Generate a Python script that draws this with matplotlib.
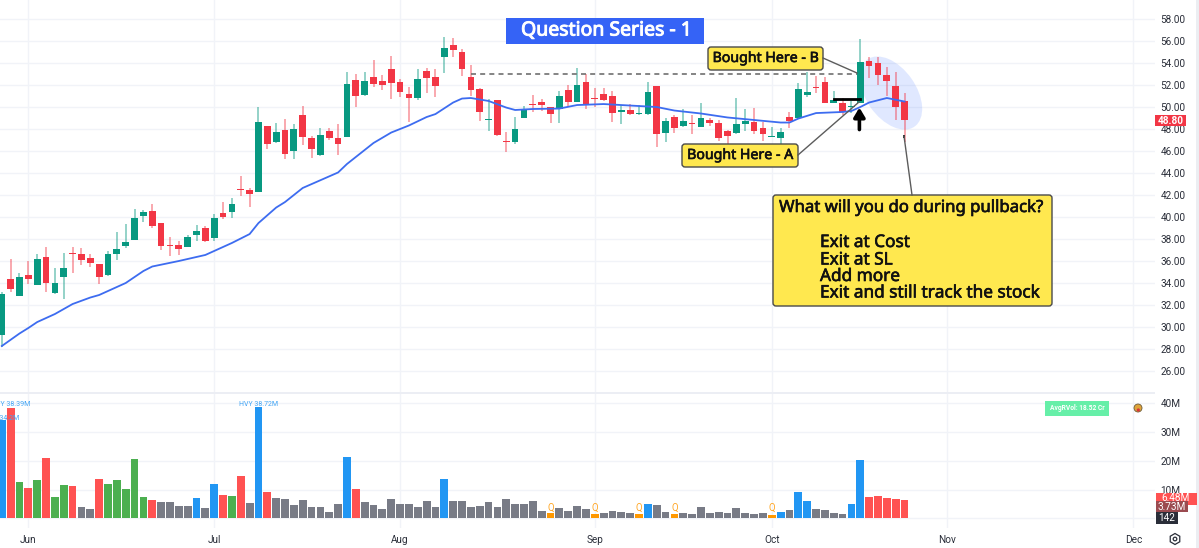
import matplotlib
matplotlib.use("Agg")
import matplotlib.pyplot as plt
import matplotlib.patheffects as pe
from matplotlib.patches import Ellipse, FancyBboxPatch, Rectangle, Circle, RegularPolygon

# Candles
opens = [29.27, 34.36, 32.82, 34.73, 33.82, 36.36, 33.09, 34.55, 36.73, 36.64,
         36.27, 35.73, 34.73, 36.64, 37.36, 37.91, 40.09, 40.55, 39.45, 37.45,
         37.45, 37.27, 38.36, 39.00, 38.09, 40.36, 40.45, 42.55, 42.45, 42.27,
         48.27, 46.82, 47.91, 46.00, 49.27, 47.18, 45.64, 47.82, 47.18, 47.27,
         52.45, 51.09, 52.73, 52.36, 53.45, 52.27, 51.18, 50.82, 53.27, 52.73,
         54.55, 55.64, 55.00, 52.73, 51.64, 48.82, 50.64, 46.91, 46.82, 49.00,
         50.27, 50.45, 50.00, 49.82, 51.55, 50.45, 52.27, 50.82, 51.18, 51.00,
         49.55, 49.73, 49.36, 49.36, 51.91, 47.64, 49.09, 48.27, 48.55, 48.18,
         48.82, 48.55, 47.82, 47.64, 48.45, 48.64, 48.09, 47.27, 47.18, 49.09,
         49.00, 51.09, 51.82, 52.27, 50.36, 50.36, 50.00, 50.36, 54.18, 54.00,
         52.91, 51.91, 50.55]
highs = [33.18, 36.18, 34.91, 36.00, 36.64, 37.27, 35.36, 36.73, 37.27, 37.18,
         36.64, 35.73, 36.91, 38.64, 39.36, 40.73, 40.64, 41.18, 39.45, 38.18,
         37.82, 38.36, 39.27, 39.18, 40.27, 41.36, 41.73, 43.73, 42.64, 50.00,
         48.27, 48.55, 48.91, 48.45, 50.09, 47.36, 48.09, 48.09, 48.45, 53.18,
         53.00, 53.18, 54.27, 52.91, 54.64, 52.55, 51.82, 53.45, 53.55, 53.45,
         56.36, 56.27, 55.27, 53.82, 51.73, 50.73, 50.64, 47.73, 49.09, 50.09,
         51.09, 50.73, 50.00, 51.45, 52.00, 53.55, 53.00, 51.73, 51.73, 51.45,
         50.18, 50.27, 50.18, 52.27, 51.91, 49.00, 49.27, 49.82, 49.27, 50.36,
         49.00, 48.82, 47.91, 50.82, 49.82, 49.91, 48.64, 48.18, 48.09, 49.55,
         52.18, 53.18, 52.82, 52.73, 51.45, 50.82, 50.55, 56.18, 54.55, 54.55,
         53.64, 53.18, 51.27]
lows = [28.18, 33.18, 32.82, 33.91, 33.82, 33.18, 33.00, 32.55, 34.91, 35.64,
        35.45, 33.91, 34.64, 36.09, 37.18, 37.91, 39.55, 39.00, 37.00, 36.45,
        36.55, 37.27, 37.82, 37.73, 37.82, 39.82, 39.91, 41.91, 40.91, 42.27,
        46.18, 46.73, 45.27, 45.27, 46.55, 45.36, 45.55, 47.00, 45.64, 47.27,
        50.00, 51.00, 51.82, 51.55, 50.73, 50.91, 48.64, 50.64, 51.27, 50.91,
        53.09, 54.55, 52.82, 51.00, 48.73, 47.82, 47.36, 45.91, 46.64, 49.00,
        49.55, 49.64, 48.55, 48.55, 50.00, 50.45, 49.82, 50.00, 50.55, 48.64,
        48.45, 49.27, 49.27, 49.27, 46.36, 46.82, 47.64, 48.18, 47.55, 48.18,
        48.27, 46.91, 46.36, 47.55, 47.82, 47.55, 46.91, 47.27, 46.64, 48.09,
        49.00, 50.91, 51.27, 50.36, 50.36, 49.27, 49.45, 50.36, 52.64, 52.00,
        51.00, 48.82, 46.82]
closes = [33.00, 33.45, 34.55, 34.36, 36.18, 34.00, 34.00, 35.36, 36.64, 36.09,
          35.82, 34.55, 36.64, 37.09, 37.73, 39.91, 40.45, 39.18, 37.36, 37.36,
          37.09, 38.18, 38.73, 37.82, 39.91, 40.00, 41.18, 42.45, 42.09, 48.64,
          46.64, 47.73, 45.73, 48.00, 47.27, 46.18, 47.45, 47.18, 46.64, 52.09,
          51.00, 52.36, 52.09, 52.00, 52.18, 51.36, 50.82, 52.55, 52.64, 51.91,
          55.36, 55.18, 53.45, 51.55, 49.55, 48.91, 47.45, 46.82, 48.00, 49.73,
          50.18, 50.18, 49.36, 51.00, 50.45, 52.00, 50.27, 50.73, 50.64, 49.45,
          49.73, 49.36, 49.45, 51.36, 47.55, 48.73, 48.09, 48.73, 48.45, 49.00,
          48.55, 47.18, 47.36, 48.45, 48.73, 47.82, 47.55, 47.36, 47.73, 48.73,
          51.64, 51.36, 51.73, 50.36, 50.64, 49.55, 50.09, 54.09, 53.73, 52.91,
          52.36, 50.00, 48.80]

# Moving average, read at the bends of the line
ma_idx = [0, 2, 3, 4, 6, 8, 10, 11, 14, 16, 17, 20, 23, 26, 28, 29, 31, 32, 34, 38,
          39, 42, 44, 46, 48, 49, 51, 52, 53, 55, 57, 58, 60, 63, 65, 68, 72, 74,
          76, 79, 82, 85, 88, 89, 90, 92, 95, 96, 97, 98, 100, 102]
ma_val = [28.27, 29.41, 29.91, 30.45, 31.18, 32.09, 32.68, 32.91, 34.00, 35.09,
          35.50, 36.00, 36.55, 37.64, 38.45, 39.45, 40.86, 41.36, 42.64, 44.05,
          44.82, 46.73, 47.68, 48.32, 49.09, 49.36, 50.41, 50.77, 50.82, 50.55,
          49.95, 49.73, 49.82, 49.86, 50.18, 50.27, 50.09, 50.00, 49.68, 49.41,
          49.05, 48.82, 48.59, 48.59, 48.95, 49.45, 49.55, 49.64, 50.00, 50.41,
          50.82, 50.50]

# Volume in millions and the kind of each bar
volumes = [34.2, 38.39, 12.6, 10.4, 13.2, 21.0, 7.5, 11.5, 11.2, 4.1,
           3.1, 13.6, 11.9, 13.3, 10.2, 20.7, 7.5, 6.3, 5.8, 5.8,
           4.3, 4.3, 7.2, 3.6, 12.0, 8.2, 7.8, 14.8, 5.2, 38.72,
           9.2, 7.0, 6.6, 4.5, 6.3, 4.1, 4.1, 2.3, 4.8, 21.4,
           10.2, 5.6, 4.6, 3.4, 6.6, 5.1, 4.9, 3.8, 6.0, 3.8,
           13.6, 6.0, 6.0, 3.8, 4.3, 5.6, 4.1, 6.6, 4.8, 5.1,
           6.0, 2.5, 1.9, 3.6, 2.5, 4.2, 3.4, 1.6, 1.9, 2.7,
           2.3, 1.9, 1.6, 5.0, 4.6, 2.2, 1.6, 1.9, 1.6, 4.1,
           1.9, 2.1, 1.9, 3.6, 1.9, 1.6, 1.9, 1.3, 2.3, 2.9,
           9.0, 6.0, 3.1, 2.9, 1.9, 1.6, 4.9, 20.2, 7.3, 7.8,
           7.1, 6.8, 6.48]
vol_kinds = list("hrgrgrggrn" "nrggggg" "rnn" "nnhnhrgrnh" "rnnnnnnnnh"
                 "rnnnnnnnnn" "hnnnnnnnnn" "nnqnnnnqnn" "nnqhnnqnnn"
                 "nnnnnnnqhn" "hhnnnnhhrr" "rrr")

month_names = ["Jun", "Jul", "Aug", "Sep", "Oct", "Nov", "Dec"]
month_idx = [3, 24, 45, 67, 87, 106.8, 127.85]
price_ticks = list(range(26, 60, 2))
vol_ticks = [10, 20, 30, 40]
heavy_labels = {0: "HVY 34.2M", 1: "HVY 38.39M", 29: "HVY 38.72M"}

resistance = 53.03
last_price = 48.80

GREEN = "#089981"
RED = "#f23645"
GRID = "#f1f3f8"
TEXT = "#2a2e39"
KIND_COLORS = {"h": "#2196f3", "r": "#ff5252", "g": "#4caf50",
               "n": "#787b86", "q": "#ff9800"}

plt.rcParams["font.family"] = ["Roboto", "DejaVu Sans"]

W, H = 1199, 548
fig = plt.figure(figsize=(W / 100, H / 100), dpi=100, facecolor="white")
ax = fig.add_axes([0, (H - 393) / H, 1155 / W, 393 / H])
vax = fig.add_axes([0, (H - 528) / H, 1155 / W, 134 / H])

xlim = (-0.203, 130.3)
xs = list(range(len(opens)))

# Price pane
ax.set_xlim(*xlim)
ax.set_ylim(24.0, 59.73)
ax.set_axisbelow(True)
ax.grid(True, color=GRID, linewidth=1)
ax.vlines(xs, lows, highs,
          colors=[GREEN if c >= o else RED for o, c in zip(opens, closes)],
          linewidth=1.1, alpha=0.55, zorder=2)
for i, (o, c) in enumerate(zip(opens, closes)):
    color = GREEN if c >= o else RED
    ax.bar(i, max(abs(c - o), 0.09), bottom=min(o, c), width=0.76, color=color,
           linewidth=0, zorder=3)
ax.plot(ma_idx, ma_val, color="#3d6cf0", linewidth=1.3, zorder=4)

ax.plot([53, 97], [resistance, resistance], color="#6f6f6f", linewidth=1.2,
        linestyle=(0, (3, 2.5)), zorder=2)
ax.plot([94, 97], [50.76, 50.76], color="black", linewidth=2, zorder=5)
ax.annotate("", xy=(96.9, 49.95), xytext=(96.9, 47.95),
            arrowprops=dict(arrowstyle="-|>,head_width=0.33,head_length=0.55",
                            color="black", linewidth=2.6, shrinkA=0, shrinkB=0),
            zorder=6)

ax.set_xticks(month_idx)
ax.tick_params(axis="x", length=0, labelbottom=False)
ax.yaxis.tick_right()
ax.set_yticks(price_ticks)
ax.set_yticklabels([f"{p:.2f}" for p in price_ticks])
ax.tick_params(axis="y", length=0, pad=3.8, labelsize=7.2, labelcolor=TEXT)
for s in ax.spines.values():
    s.set_visible(False)

# Volume pane
vax.set_xlim(*xlim)
vax.set_ylim(-3.37, 43.2)
vax.set_axisbelow(True)
vax.grid(True, color=GRID, linewidth=1)
vax.axhline(0, color=GRID, linewidth=1, zorder=0)
vax.bar(xs, volumes, width=0.88, color=[KIND_COLORS[k] for k in vol_kinds],
        linewidth=0, zorder=2)
for i, k in enumerate(vol_kinds):
    if k == "q":
        vax.text(i, 3.6, "Q", color="#ffa726", fontsize=7, ha="center", va="center")
for i, label in heavy_labels.items():
    top = 34.6 if i == 0 else 39.6
    vax.text(i, top, label, color="#42a5f5", fontsize=5.0, ha="center", va="center",
             clip_on=False)

vax.set_xticks(month_idx)
vax.set_xticklabels(month_names)
vax.tick_params(axis="x", length=0, pad=5, labelsize=7.2, labelcolor=TEXT)
vax.yaxis.tick_right()
vax.set_yticks(vol_ticks)
vax.set_yticklabels([f"{v}M" for v in vol_ticks])
vax.tick_params(axis="y", length=0, pad=3.8, labelsize=7.2, labelcolor=TEXT)
for s in vax.spines.values():
    s.set_visible(False)

# Everything drawn by hand on the chart goes on a pixel overlay
ov = fig.add_axes([0, 0, 1, 1], facecolor="none")
ov.set_xlim(0, W)
ov.set_ylim(H, 0)
ov.axis("off")

ov.add_patch(Rectangle((0, 392), 1155, 1.5, color="#eceef4", linewidth=0))
ov.add_patch(Rectangle((1196, 0), 3, H, color="#eceef2", linewidth=0))
# the highlight sits under the candles, so it goes in the price pane
ax.add_patch(Ellipse((891, 93), 82, 50, angle=55, color="#2962ff", alpha=0.14,
                     linewidth=0, transform=ov.transData, zorder=1))

ov.plot([823, 857], [58, 73], color="#5c5c5c", linewidth=1)
ov.plot([798, 859], [155, 102], color="#5c5c5c", linewidth=1)
ov.plot([904, 912], [136, 195], color="#5c5c5c", linewidth=1)
ov.add_patch(Rectangle((902.5, 135), 2.5, 2.5, color="#222222", linewidth=0))


def yellow_box(x0, y0, x1, y1):
    ov.add_patch(FancyBboxPatch((x0 + 3, y0 + 3), x1 - x0 - 6, y1 - y0 - 6,
                                boxstyle="round,pad=3,rounding_size=3",
                                facecolor="#ffe84f", edgecolor="#4a4a4a", linewidth=1))


# Noto Sans only comes in regular here, a thin stroke gives the heavier look
ANNOT = dict(family=["Noto Sans", "DejaVu Sans"], color="#111111",
             path_effects=[pe.withStroke(linewidth=0.45, foreground="#111111")])

ov.add_patch(Rectangle((506, 18), 198, 26, color="#3563f6", linewidth=0))
ov.text(606.5, 30.5, "Question Series - 1", color="white", fontsize=14,
        ha="center", va="center", family=["Noto Sans", "DejaVu Sans"],
        path_effects=[pe.withStroke(linewidth=0.7, foreground="white")])

yellow_box(708, 47, 823, 70)
ov.text(765.5, 58.5, "Bought Here - B", fontsize=10.2, ha="center", va="center", **ANNOT)
yellow_box(682, 144, 798, 167)
ov.text(740, 155.5, "Bought Here - A", fontsize=10.2, ha="center", va="center", **ANNOT)

yellow_box(773, 195, 1052, 306)
ov.text(779, 208, "What will you do during pullback?", fontsize=12.05, ha="left",
        va="center", **ANNOT)
question_opts = ["Exit at Cost", "Exit at SL", "Add more", "Exit and still track the stock"]
for label, y in zip(question_opts, [242, 259.5, 276, 292.5]):
    ov.text(820, y, label, fontsize=12.4, ha="left", va="center", **ANNOT)

# Price and volume tags on the right scale
ov.add_patch(Rectangle((1155, 115), 31, 11, color=RED, linewidth=0))
ov.text(1170.5, 120.5, f"{last_price:.2f}", color="white", fontsize=7.2, weight="bold",
        ha="center", va="center")
ov.add_patch(Rectangle((1156, 493), 41, 12, color="#ff5252", linewidth=0))
ov.text(1176, 498, "6.48M", color="white", fontsize=7.2, ha="center", va="center")
ov.add_patch(Rectangle((1156, 501), 32, 11, color="#9b4b50", linewidth=0))
ov.text(1172, 506.5, "3.73M", color="white", fontsize=7.2, ha="center", va="center")
ov.add_patch(Rectangle((1156, 512), 22, 12, color="#2a2e39", linewidth=0))
ov.text(1167, 518, "142", color="white", fontsize=7.2, ha="center", va="center")

ov.add_patch(Rectangle((1045, 401), 64, 15, color="#66efa8", linewidth=0))
ov.text(1077, 408.5, "AvgRVol: 18.52 Cr", color="white", fontsize=4.8, weight="bold",
        ha="center", va="center")

ov.add_patch(Circle((1138, 408), 4, facecolor="#e0a43a", edgecolor="#6b5a3a", linewidth=0.6))
ov.add_patch(Circle((1138.3, 410), 1.6, facecolor="#d8343a", linewidth=0))

ov.add_patch(RegularPolygon((1175, 539), 6, radius=5.5, fill=False, edgecolor=TEXT,
                            linewidth=0.9))
ov.add_patch(Circle((1175, 539), 1.8, fill=False, edgecolor=TEXT, linewidth=0.9))

fig.savefig("out.png", dpi=100)
